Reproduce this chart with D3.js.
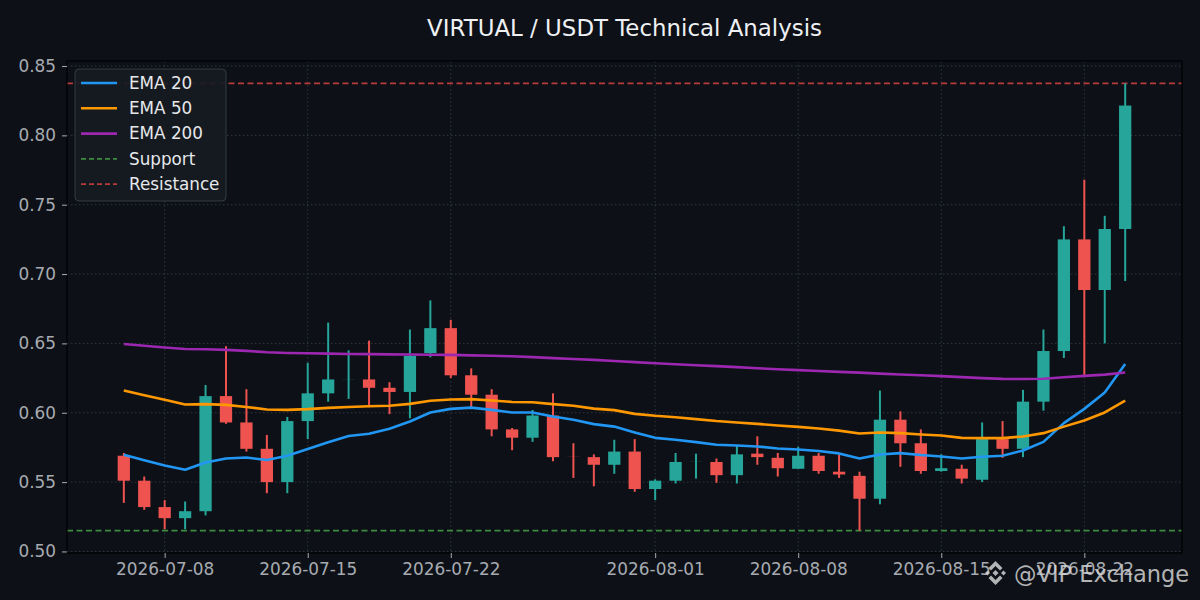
<!DOCTYPE html>
<html><head><meta charset="utf-8">
<script src="https://cdn.jsdelivr.net/npm/d3@7/dist/d3.min.js"></script>
<style>body{margin:0;background:#0d1117;} svg{display:block;font-family:"DejaVu Sans",sans-serif;}</style>
</head><body><svg id="c" width="1200" height="600"></svg>
<script>
const dates = ["2026-07-06","2026-07-07","2026-07-08","2026-07-09","2026-07-10","2026-07-11","2026-07-12","2026-07-13","2026-07-14","2026-07-15",
"2026-07-16","2026-07-17","2026-07-18","2026-07-19","2026-07-20","2026-07-21","2026-07-22","2026-07-23","2026-07-24","2026-07-25",
"2026-07-26","2026-07-27","2026-07-28","2026-07-29","2026-07-30","2026-07-31","2026-08-01","2026-08-02","2026-08-03","2026-08-04",
"2026-08-05","2026-08-06","2026-08-07","2026-08-08","2026-08-09","2026-08-10","2026-08-11","2026-08-12","2026-08-13","2026-08-14",
"2026-08-15","2026-08-16","2026-08-17","2026-08-18","2026-08-19","2026-08-20","2026-08-21","2026-08-22","2026-08-23","2026-08-24"];
const open  = [0.569,0.551,0.532,0.524,0.529,0.612,0.593,0.574,0.550,0.594,
0.614,0.624,0.624,0.618,0.615,0.643,0.661,0.627,0.613,0.588,
0.582,0.598,0.5682,0.568,0.5625,0.572,0.545,0.551,0.5645,0.5645,
0.555,0.5705,0.5675,0.5596,0.569,0.5575,0.5545,0.538,0.595,0.578,
0.558,0.5596,0.5517,0.581,0.574,0.608,0.6445,0.725,0.6885,0.7325];
const high  = [0.571,0.554,0.537,0.536,0.620,0.648,0.617,0.584,0.597,0.636,
0.665,0.645,0.652,0.622,0.660,0.681,0.667,0.632,0.617,0.589,
0.602,0.614,0.578,0.570,0.5805,0.581,0.552,0.571,0.5705,0.567,
0.576,0.583,0.571,0.5755,0.571,0.570,0.5575,0.616,0.601,0.588,
0.570,0.5625,0.593,0.594,0.6165,0.660,0.7345,0.768,0.742,0.8375];
const low   = [0.535,0.530,0.516,0.516,0.526,0.592,0.572,0.542,0.542,0.581,
0.608,0.610,0.604,0.599,0.596,0.640,0.625,0.604,0.583,0.573,
0.579,0.565,0.553,0.547,0.556,0.543,0.537,0.549,0.5525,0.5495,
0.549,0.5625,0.554,0.5596,0.556,0.553,0.515,0.534,0.561,0.556,
0.5575,0.549,0.550,0.5675,0.568,0.6015,0.6395,0.6265,0.650,0.695];
const close = [0.551,0.532,0.524,0.529,0.612,0.593,0.574,0.550,0.594,0.614,
0.624,0.6241,0.618,0.615,0.641,0.661,0.627,0.613,0.588,0.582,
0.598,0.568,0.5681,0.5625,0.572,0.545,0.551,0.5645,0.5646,0.555,
0.570,0.568,0.560,0.569,0.558,0.5555,0.538,0.595,0.578,0.558,
0.560,0.5525,0.581,0.574,0.608,0.6445,0.725,0.6885,0.7325,0.8215];
const ema20 = [0.5697,0.5658,0.562,0.5589,0.5641,0.567,0.5677,0.5659,0.569,0.5738,
0.5788,0.5832,0.5848,0.5884,0.5937,0.6002,0.6028,0.6037,0.6021,0.6002,
0.6002,0.5973,0.5949,0.5918,0.590,0.5858,0.5819,0.5805,0.5788,0.5769,
0.5764,0.5757,0.5742,0.5735,0.5724,0.5707,0.567,0.5699,0.5709,0.5695,
0.5685,0.567,0.5683,0.569,0.5728,0.579,0.5925,0.6028,0.6146,0.6352];
const ema50 = [0.616,0.6126,0.6093,0.6059,0.6062,0.6057,0.6042,0.6023,0.6021,0.6026,
0.6035,0.6042,0.6047,0.605,0.6064,0.6086,0.6095,0.6098,0.6088,0.6078,
0.6076,0.6062,0.605,0.603,0.6019,0.5992,0.5978,0.5968,0.5954,0.594,
0.593,0.592,0.5908,0.5898,0.5886,0.5871,0.585,0.5858,0.5853,0.5843,
0.5836,0.5819,0.5817,0.5817,0.5829,0.5853,0.590,0.5944,0.6002,0.6088];
const ema200 = [0.6496,0.6483,0.647,0.646,0.6458,0.6453,0.6446,0.6436,0.6431,0.6429,
0.6426,0.6424,0.6423,0.6421,0.642,0.6418,0.6417,0.6414,0.6411,0.6407,
0.6401,0.6394,0.6388,0.6381,0.6373,0.6365,0.6357,0.635,0.6343,0.6336,
0.6329,0.6321,0.6314,0.6307,0.6301,0.6295,0.6289,0.6282,0.6276,0.627,
0.6264,0.6257,0.625,0.6244,0.6243,0.6245,0.6256,0.6266,0.6275,0.629];
const supportLevel = 0.515;
const resistanceLevel = 0.8375;
const xTickLabels = ["2026-07-08","2026-07-15","2026-07-22","2026-08-01","2026-08-08","2026-08-15","2026-08-22"];
const yTickValues = [0.50,0.55,0.60,0.65,0.70,0.75,0.80,0.85];
const title = "VIRTUAL / USDT Technical Analysis";
const legendLabels = ["EMA 20","EMA 50","EMA 200","Support","Resistance"];

const W = 1200, H = 600;
const M = {left:67, right:18, top:61, bottom:47};
const BG = "#0d1117";
const UP = "#26a69a", DN = "#ef5350";
const C20 = "#2196f3", C50 = "#ff9800", C200 = "#9c27b0";
const SUP = "#3d8b40", RES = "#b83b3b";
const TXT = "#a7abb1";

const parse = d3.utcParse("%Y-%m-%d");
const data = dates.map((d,i)=>({date:parse(d),o:open[i],h:high[i],l:low[i],c:close[i],e20:ema20[i],e50:ema50[i],e200:ema200[i]}));
const DAY = 864e5;
const candleW = 0.6; // days
const ext = d3.extent(data, d=>d.date);
const span = (ext[1]-ext[0]) + candleW*DAY;
const pad = span*0.05 + candleW*DAY/2;
const x = d3.scaleUtc().domain([new Date(+ext[0]-pad), new Date(+ext[1]+pad)]).range([M.left, W-M.right]);
const yLo = supportLevel, yHi = resistanceLevel, ySpan = yHi - yLo;
const y = d3.scaleLinear().domain([yLo - ySpan*0.05, yHi + ySpan*0.05]).range([H-M.bottom, M.top]);

const svg = d3.select("#c");
svg.append("rect").attr("width",W).attr("height",H).attr("fill",BG);

const pw = W-M.left-M.right, ph = H-M.top-M.bottom;
svg.append("rect").attr("x",M.left).attr("y",M.top).attr("width",pw).attr("height",ph).attr("fill",BG);

// grid
const g = svg.append("g");
const xTicks = xTickLabels.map(parse);
g.selectAll(".gx").data(xTicks).join("line")
  .attr("x1",d=>x(d)).attr("x2",d=>x(d)).attr("y1",M.top).attr("y2",H-M.bottom)
  .attr("stroke","#3a4049").attr("stroke-width",0.8).attr("stroke-dasharray","1.5,2.5");
g.selectAll(".gy").data(yTickValues).join("line")
  .attr("x1",M.left).attr("x2",W-M.right).attr("y1",d=>y(d)).attr("y2",d=>y(d))
  .attr("stroke","#3a4049").attr("stroke-width",0.8).attr("stroke-dasharray","1.5,2.5");

// support / resistance
svg.append("line").attr("x1",M.left).attr("x2",W-M.right).attr("y1",y(supportLevel)).attr("y2",y(supportLevel))
  .attr("stroke",SUP).attr("stroke-width",1.7).attr("stroke-dasharray","6,3.5");
svg.append("line").attr("x1",M.left).attr("x2",W-M.right).attr("y1",y(resistanceLevel)).attr("y2",y(resistanceLevel))
  .attr("stroke",RES).attr("stroke-width",1.7).attr("stroke-dasharray","6,3.5");

// candles
const bw = x(new Date(+ext[0]+candleW*DAY)) - x(ext[0]);
const cg = svg.append("g");
cg.selectAll(".wick").data(data).join("line")
  .attr("x1",d=>x(d.date)).attr("x2",d=>x(d.date))
  .attr("y1",d=>y(d.h)).attr("y2",d=>y(d.l))
  .attr("stroke",d=>d.c>=d.o?UP:DN).attr("stroke-width",2);
cg.selectAll(".body").data(data).join("rect")
  .attr("x",d=>x(d.date)-bw/2).attr("width",bw)
  .attr("y",d=>y(Math.max(d.o,d.c)))
  .attr("height",d=>Math.abs(y(d.o)-y(d.c)))
  .attr("fill",d=>d.c>=d.o?UP:DN);

// EMA lines
const mk = key => d3.line().x(d=>x(d.date)).y(d=>y(d[key]));
[["e20",C20],["e50",C50],["e200",C200]].forEach(([k,c])=>{
  svg.append("path").datum(data).attr("d",mk(k)).attr("fill","none").attr("stroke",c).attr("stroke-width",2.6).attr("stroke-linejoin","round");
});

// frame
svg.append("rect").attr("x",M.left).attr("y",M.top).attr("width",pw).attr("height",ph)
  .attr("fill","none").attr("stroke","#000").attr("stroke-width",1.2);

// axes
const xAxis = d3.axisBottom(x).tickValues(xTicks).tickFormat(d3.utcFormat("%Y-%m-%d")).tickSize(5).tickPadding(5);
const ax = svg.append("g").attr("transform",`translate(0,${H-M.bottom})`).call(xAxis);
const yAxis = d3.axisLeft(y).tickValues(yTickValues).tickFormat(d3.format(".2f")).tickSize(5).tickPadding(6);
const ay = svg.append("g").attr("transform",`translate(${M.left},0)`).call(yAxis);
[ax,ay].forEach(a=>{
  a.select(".domain").remove();
  a.selectAll(".tick line").attr("stroke",TXT);
  a.selectAll(".tick text").attr("fill",TXT).attr("font-size",16.9).attr("font-family","DejaVu Sans");
});

// title
svg.append("text").attr("x",M.left+pw/2).attr("y",36).attr("text-anchor","middle")
  .attr("fill","#eef0f3").attr("font-size",22.9).text(title);

// legend
const lg = svg.append("g").attr("transform","translate(75,69)");
lg.append("rect").attr("width",151).attr("height",132).attr("rx",4)
  .attr("fill","#161b22").attr("fill-opacity",0.92).attr("stroke","#353b44").attr("stroke-width",1);
const lstyles = [[C20,null],[C50,null],[C200,null],[SUP,"5,3"],[RES,"5,3"]];
legendLabels.forEach((lab,i)=>{
  const yy = 14 + i*25.3;
  lg.append("line").attr("x1",6).attr("x2",42).attr("y1",yy).attr("y2",yy)
    .attr("stroke",lstyles[i][0]).attr("stroke-width",lstyles[i][1]?1.7:2.6)
    .attr("stroke-dasharray",lstyles[i][1]);
  lg.append("text").attr("x",54).attr("y",yy+5.8).attr("fill","#e6e8eb").attr("font-size",16.8).text(lab);
});

// watermark
const wm = svg.append("g").attr("opacity",0.82);
const lgo = wm.append("g").attr("transform","translate(982.5,560)").attr("fill","#d8d8d8");
lgo.append("path").attr("d","M13,10 L16,13 L13,16 L10,13 Z");
lgo.append("path").attr("d","M2.5,13 L5,10.5 L7.5,13 L5,15.5 Z");
lgo.append("path").attr("d","M18.5,13 L21,10.5 L23.5,13 L21,15.5 Z");
lgo.append("path").attr("d","M13,1 L20,8 L17.5,10.5 L13,6 L8.5,10.5 L6,8 Z");
lgo.append("path").attr("d","M13,25 L20,18 L17.5,15.5 L13,20 L8.5,15.5 L6,18 Z");
wm.append("text").attr("x",1014).attr("y",581.5).attr("fill","#d8d8d8").attr("font-size",22.5).text("@VIP Exchange");
</script></body></html>
